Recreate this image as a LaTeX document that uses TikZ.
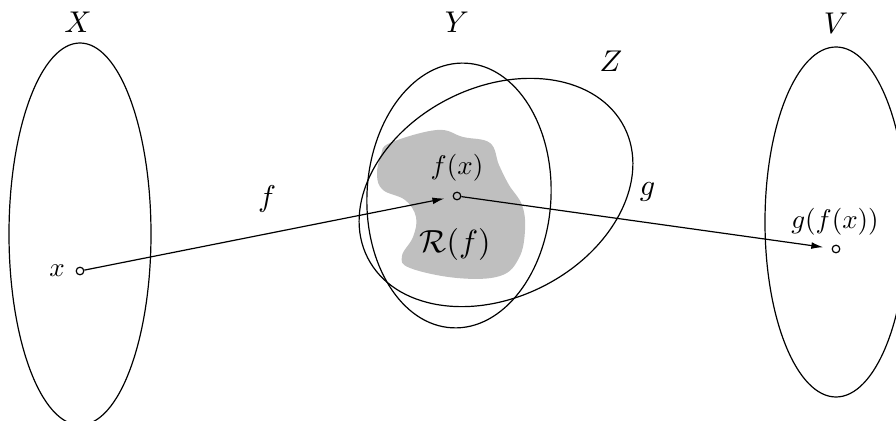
\documentclass[tikz,border=0pt]{standalone}
\usetikzlibrary{arrows.meta}
\begin{document}
\begin{tikzpicture}[x=0.5pt,y=-0.5pt,
  setline/.style={line width=0.6pt},
  pt/.style={circle,draw,line width=0.6pt,inner sep=0pt,minimum size=3.8pt},
  map/.style={line width=0.6pt,-{Latex[length=6pt,width=3.4pt]},shorten >=4.2pt},
  lbl/.style={inner sep=0pt,scale=#1},
]
\useasboundingbox (0,0) rectangle (896,421);
% range of f
\fill[black!25] plot[smooth cycle,tension=0.65] coordinates {
  (390,143) (437,130) (463,137) (490,143) (499,165) (509,185) (522,205)
  (525,230) (519,258) (500,276) (457,278) (410,268) (402,256) (413,237)
  (416,217) (405,200) (383,190) (377,175) (381,155)};
% sets
\draw[setline] (80,234) ellipse [x radius=71, y radius=191];
\draw[setline,rotate around={-3:(459,195.5)}] (459,195.5) ellipse [x radius=92, y radius=132.5];
\draw[setline,rotate around={27:(496,192.5)}] (496,192.5) ellipse [x radius=144, y radius=105];
\draw[setline] (836,222) ellipse [x radius=71, y radius=175];
% points
\node[pt] (px) at (80,271) {};
\node[pt] (pfx) at (457,196) {};
\node[pt] (pgfx) at (836,249) {};
% maps
\draw[map] (px) -- (pfx);
\draw[map] (pfx) -- (pgfx);
% labels
\node[lbl=1.5] (lX) at (78,22.5) {$X$};
\node[lbl=1.5] (lY) at (457,22.5) {$Y$};
\node[lbl=1.5] (lZ) at (611,61) {$Z$};
\node[lbl=1.5] (lV) at (836,23) {$V$};
\node[lbl=1.5] (lf) at (267,199) {$f$};
\node[lbl=1.5] (lg) at (647.5,191.5) {$g$};
\node[lbl=1.6] (lR) at (455,245) {$\mathcal{R}(f)$};
\node[lbl=1.35] (lfx) at (457,168) {$f(x)$};
\node[lbl=1.35] (lgfx) at (835,222) {$g(f(x))$};
\node[lbl=1.35] (lx) at (57,271) {$x$};
\end{tikzpicture}
\end{document}
